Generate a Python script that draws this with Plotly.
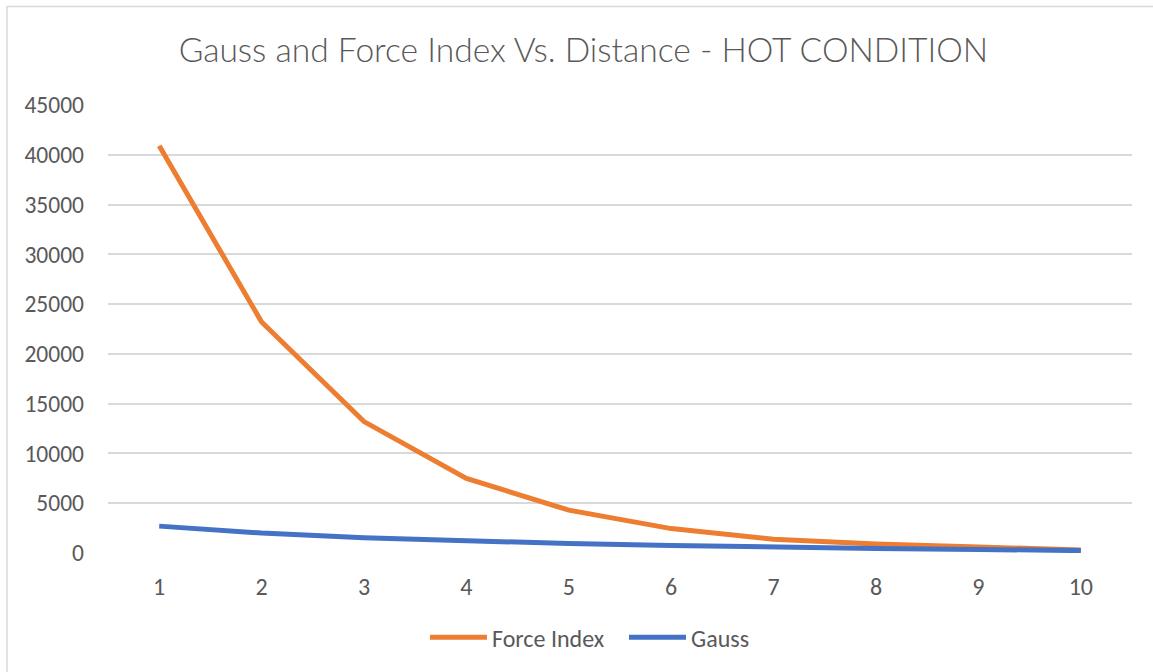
import plotly.graph_objects as go

distance = ["1", "2", "3", "4", "5", "6", "7", "8", "9", "10"]
force_index = [40900, 23200, 13200, 7500, 4300, 2450, 1380, 900, 600, 300]
gauss = [2700, 2000, 1530, 1230, 950, 760, 580, 460, 360, 240]
y_ticks = [0, 5000, 10000, 15000, 20000, 25000, 30000, 35000, 40000, 45000]

fig = go.Figure()
fig.add_trace(go.Scatter(x=distance, y=force_index, mode="lines", name="Force Index",
                         line=dict(color="#ED7D31", width=5)))
fig.add_trace(go.Scatter(x=distance, y=gauss, mode="lines", name="Gauss",
                         line=dict(color="#4472C4", width=5)))

W, H = 1153, 672
ML, MR, MT, MB = 108, 21, 105, 117
plot_w = W - ML - MR
plot_h = H - MT - MB

font_family = "Carlito, Calibri, Lato, 'Open Sans', sans-serif"
fig.update_layout(
    width=W, height=H,
    margin=dict(l=ML, r=MR, t=MT, b=MB),
    paper_bgcolor="white", plot_bgcolor="white",
    font=dict(family=font_family, color="#595959", size=24),
    title=dict(text="Gauss and Force Index Vs. Distance - HOT CONDITION",
               x=0.506, xanchor="center", y=1 - 50 / H, yanchor="middle",
               font=dict(family="Lato, Carlito, sans-serif", size=33.6, weight=300,
                         color="#595959")),
    showlegend=True,
    legend=dict(orientation="h", x=(425 - ML) / plot_w, xanchor="left",
                y=-(640 - (H - MB)) / plot_h, yanchor="middle",
                font=dict(size=24, color="#595959"), itemwidth=57,
                entrywidth=127, entrywidthmode="pixels", traceorder="normal"),
    xaxis=dict(type="category", range=[-0.5, 9.5], showgrid=False, zeroline=False,
               showline=False, ticks="", ticklabelstandoff=17,
               tickfont=dict(size=24, color="#595959")),
    yaxis=dict(range=[0, 45000], tickvals=y_ticks, tickformat="d", showgrid=True,
               gridcolor="#D9D9D9", gridwidth=1.5, zeroline=False, showline=False,
               ticks="", ticklabelstandoff=23, tickfont=dict(size=23.5, color="#595959")),
    shapes=[dict(type="rect", xref="paper", yref="paper",
                 x0=(7 - ML) / plot_w, x1=(1165 - ML) / plot_w,
                 y0=(H - MB - 690) / plot_h, y1=(H - MB - 6) / plot_h,
                 line=dict(color="#D9D9D9", width=1.5), fillcolor="rgba(0,0,0,0)",
                 layer="below")],
)

fig.write_html("out.html", config={"displayModeBar": False},
               post_script="document.body.style.margin='0';")
